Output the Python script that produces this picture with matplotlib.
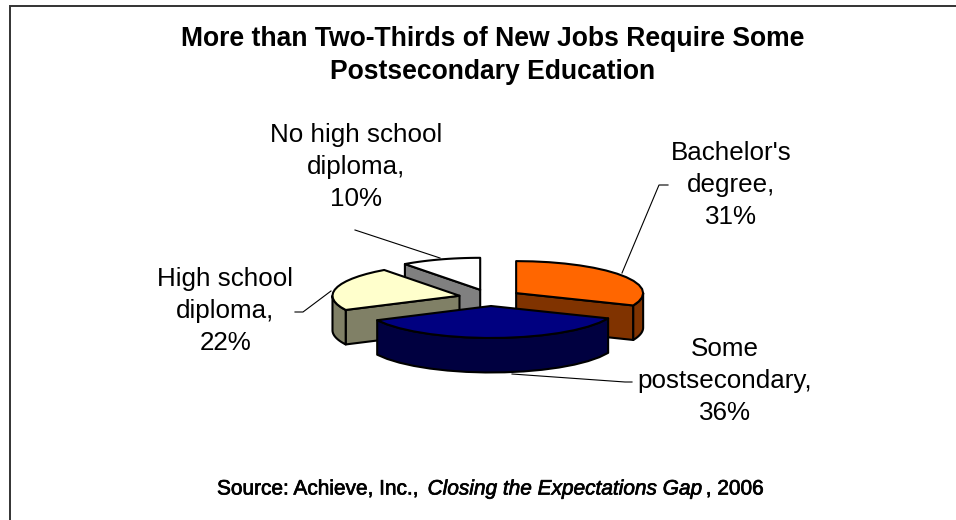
import numpy as np
import matplotlib
matplotlib.use("Agg")
import matplotlib.pyplot as plt
import matplotlib.patheffects as pe

plt.rcParams['font.family'] = ['Liberation Sans', 'DejaVu Sans']

# slices, clockwise from 12 o'clock
categories = ["Bachelor's\ndegree,", "Some\npostsecondary,", "High school\ndiploma,", "No high school\ndiploma,"]
shares = [31, 36, 22, 10]
top_colors = ['#FF6600', '#000080', '#FFFFCC', '#FFFFFF']
side_colors = ['#803300', '#000040', '#808066', '#808080']

# pie geometry in pixels
cx, cy = 490, 297.7
rx, ry = 127, 32
depth = 34.5
explode_x, explode_y = 31.4, 8.3
draw_order = [3, 0, 2, 1]

# label centres and leader lines
label_pos = [(731, 185), (724.5, 381), (225.5, 311), (356, 167)]
leaders = [
    [(622, 273), (659, 185), (668, 185)],
    [(512, 374), (625, 382), (632, 382)],
    [(295, 312), (303, 312), (331, 291)],
    [(355, 230), (440, 258)],
]


def rim(a0, a1, x0, y0, n=16):
    t = np.radians(np.linspace(a0, a1, n))
    return x0 + rx * np.sin(t), y0 - ry * np.cos(t)


fig = plt.figure(figsize=(9.56, 5.2), dpi=100)
ax = fig.add_axes([0, 0, 1, 1])
ax.set_xlim(0, 956)
ax.set_ylim(520, 0)
ax.axis('off')

# frame: only top and left show
ax.plot([10, 10, 956], [520, 5.5, 5.5], color='#333333', lw=1.4, solid_joinstyle='miter')

edges = np.cumsum([0] + shares) / sum(shares) * 360
for i in draw_order:
    a0, a1 = edges[i], edges[i + 1]
    mid = np.radians((a0 + a1) / 2)
    x0 = cx + explode_x * np.sin(mid)
    y0 = cy - explode_y * np.cos(mid)
    xs, ys = rim(a0, a1, x0, y0)
    style = dict(facecolor=side_colors[i], edgecolor='black', lw=1.5, joinstyle='round')
    # cut faces that look toward the viewer
    if np.sin(np.radians(a0)) < -1e-6:
        ax.fill([x0, xs[0], xs[0], x0], [y0, ys[0], ys[0] + depth, y0 + depth], **style)
    if np.sin(np.radians(a1)) > 1e-6:
        ax.fill([x0, xs[-1], xs[-1], x0], [y0, ys[-1], ys[-1] + depth, y0 + depth], **style)
    # outer wall, front half only
    lo, hi = max(a0, 90), min(a1, 270)
    if lo < hi:
        wx, wy = rim(lo, hi, x0, y0)
        ax.fill(np.r_[wx, wx[::-1]], np.r_[wy, wy[::-1] + depth], **style)
    ax.fill(np.r_[x0, xs], np.r_[y0, ys], facecolor=top_colors[i], edgecolor='black',
            lw=1.5, joinstyle='round')

for pts in leaders:
    px, py = zip(*pts)
    ax.plot(px, py, color='black', lw=0.8)

for name, val, (lx, ly) in zip(categories, shares, label_pos):
    ax.text(lx, ly, f"{name}\n{val}%", ha='center', va='center', fontsize=18.7,
            linespacing=1.4, color='black')

ax.text(493, 55.5, "More than Two-Thirds of New Jobs Require Some\nPostsecondary Education",
        ha='center', va='center', fontsize=19.1, fontweight='bold', linespacing=1.32)

# source line, mixed upright and italic
pieces = [("Source: Achieve, Inc.,", 'normal', 9),
          ("Closing the Expectations Gap", 'italic', 3),
          (", 2006", 'normal', 0)]
renderer = fig.canvas.get_renderer()
x = 217
for txt, fstyle, gap in pieces:
    t = ax.text(x, 489, txt, ha='left', va='center', fontsize=15, fontstyle=fstyle,
                path_effects=[pe.withStroke(linewidth=0.5, foreground='black')])
    x = ax.transData.inverted().transform(t.get_window_extent(renderer))[1, 0] + gap

fig.savefig('out.png', dpi=100)
